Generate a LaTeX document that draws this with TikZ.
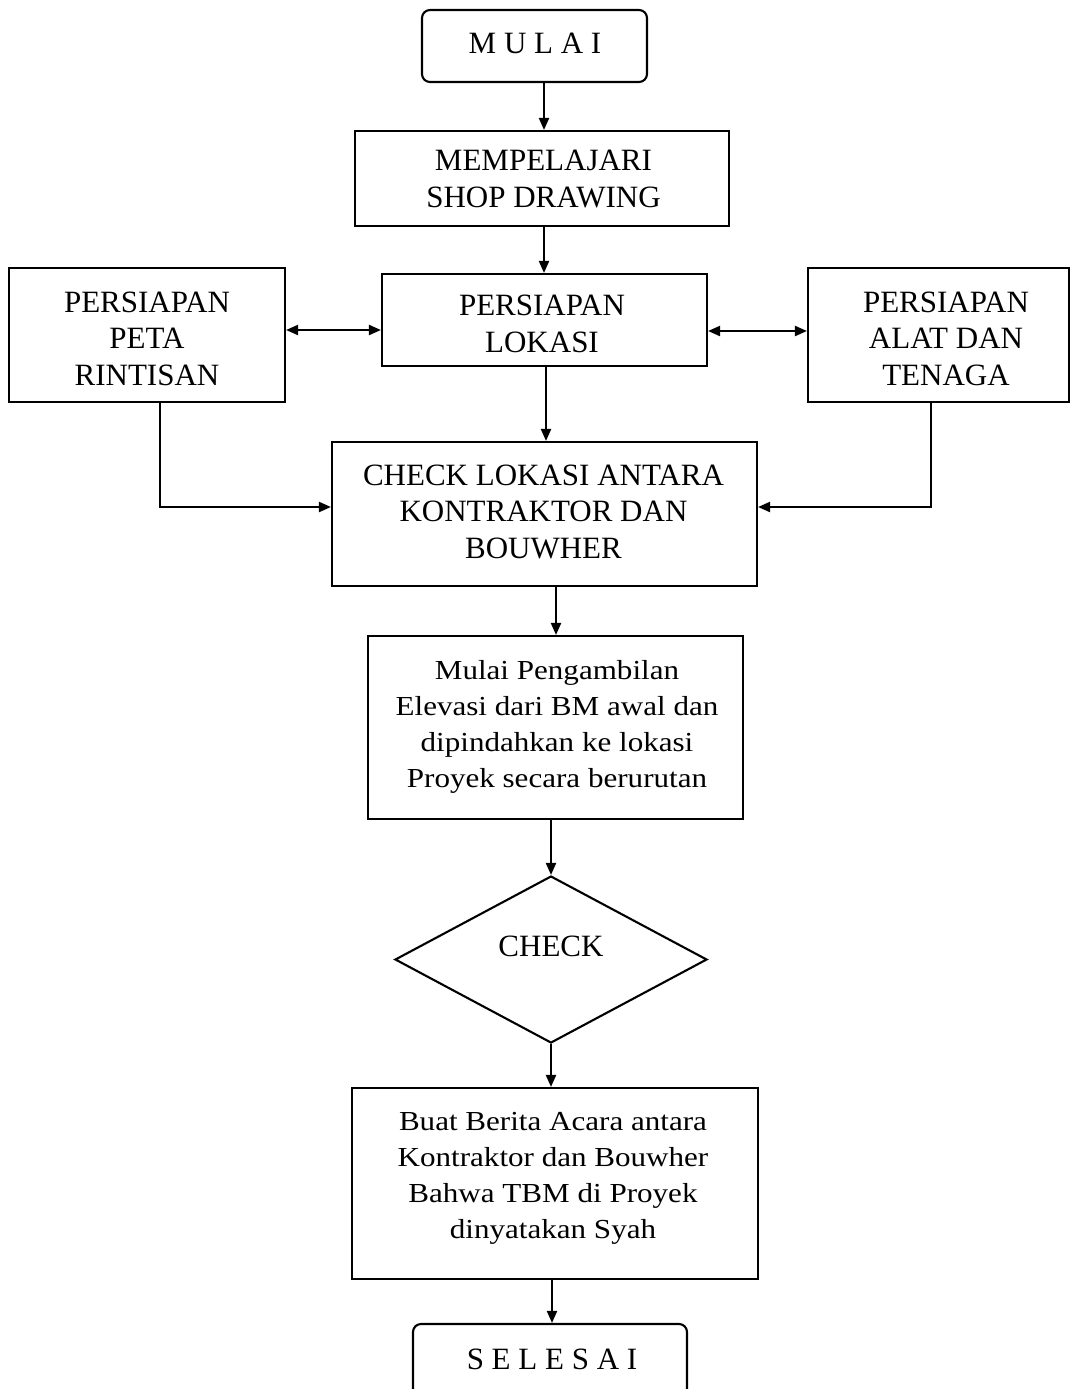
\documentclass[tikz,border=0pt]{standalone}
\usepackage{fontspec}
\setmainfont{Liberation Serif}
\newfontfamily\widefont[FakeStretch=1.13]{Liberation Serif}
\usetikzlibrary{arrows.meta,shapes.geometric}
\begin{document}
\begin{tikzpicture}[x=1pt,y=-1pt,
  box/.style={draw, line width=2.1pt, rectangle, inner sep=0pt},
  roundbox/.style={box, rounded corners=8pt},
  decision/.style={draw, line width=2.1pt, diamond, inner sep=0pt},
  capstxt/.style={font=\fontsize{31}{36.5}\selectfont, align=center, inner sep=0pt},
  mixtxt/.style={font=\widefont\fontsize{27.5}{36}\selectfont, align=center, inner sep=0pt},
  tip/.style={Triangle[length=12pt,width=10pt]},
  arr/.style={line width=2.1pt, -{Triangle[length=12pt,width=10pt]}},
  dbl/.style={line width=2.1pt, {Triangle[length=12pt,width=10pt]}-{Triangle[length=12pt,width=10pt]}},
  link/.style={line width=2.1pt, -{Triangle[length=12pt,width=10pt]}}]
\useasboundingbox (0,0) rectangle (1073,1389);
\clip (0,0) rectangle (1073,1389);

% boxes
\node[roundbox, minimum width=225pt, minimum height=72pt] (mulai) at (534.5,46) {};
\node[box, minimum width=374pt, minimum height=95pt] (mempel) at (542,178.5) {};
\node[box, minimum width=325pt, minimum height=92pt] (lokasi) at (544.5,320) {};
\node[box, minimum width=276pt, minimum height=134pt] (peta) at (147,335) {};
\node[box, minimum width=261pt, minimum height=134pt] (tenaga) at (938.5,335) {};
\node[box, minimum width=425pt, minimum height=144pt] (cek) at (544.5,514) {};
\node[box, minimum width=375pt, minimum height=183pt] (ambil) at (555.5,727.5) {};
\node[decision, minimum width=312pt, minimum height=167pt] (cond) at (551,959.5) {};
\node[box, minimum width=406pt, minimum height=191pt] (buat) at (555,1183.5) {};
\node[roundbox, minimum width=274pt, minimum height=100pt] (selesai) at (550,1374) {};

% texts (anchored at the baseline of the last line)
\node[capstxt, anchor=base] (tmulai) at (535,54) {M U L A I};
\node[capstxt, anchor=base] (tmempel) at (543.5,207) {MEMPELAJARI\\SHOP DRAWING};
\node[capstxt, anchor=base] (tlokasi) at (542,352) {PERSIAPAN\\LOKASI};
\node[capstxt, anchor=base] (tpeta) at (147,385) {PERSIAPAN\\PETA\\RINTISAN};
\node[capstxt, anchor=base] (ttenaga) at (946,385) {PERSIAPAN\\ALAT DAN\\TENAGA};
\node[capstxt, anchor=base] (tcek) at (543.5,558) {CHECK LOKASI ANTARA\\KONTRAKTOR DAN\\BOUWHER};
\node[mixtxt, anchor=base] (tambil) at (557,787) {Mulai Pengambilan\\Elevasi dari BM awal dan\\dipindahkan ke lokasi\\Proyek secara berurutan};
\node[capstxt, anchor=base] (tcond) at (551,956) {CHECK};
\node[mixtxt, anchor=base] (tbuat) at (553,1238) {Buat Berita Acara antara\\Kontraktor dan Bouwher\\Bahwa TBM di Proyek\\dinyatakan Syah};
\node[capstxt, anchor=base] (tselesai) at (552,1369) {S E L E S A I};

% main flow
\draw[arr] ([xshift=9.5pt]mulai.south) -- ([xshift=9.5pt]mulai.south |- mempel.north);
\draw[arr] ([xshift=2pt]mempel.south) -- ([xshift=2pt]mempel.south |- lokasi.north);
\draw[arr] ([xshift=1.5pt]lokasi.south) -- ([xshift=1.5pt]lokasi.south |- cek.north);
\draw[arr] ([xshift=11.5pt]cek.south) -- ([xshift=11.5pt]cek.south |- ambil.north);
\draw[arr] (ambil.south -| cond.north) -- (cond.north);
\draw[arr] (cond.south) -- (cond.south |- buat.north);
\draw[arr] ([xshift=-3pt]buat.south) -- ([xshift=-3pt]buat.south |- selesai.north);

% side preparations
\draw[dbl] ([yshift=5pt]peta.east) -- ([yshift=5pt]peta.east -| lokasi.west);
\draw[dbl] ([yshift=-11pt]lokasi.east) -- ([yshift=-11pt]lokasi.east -| tenaga.west);
\draw[link] ([xshift=13pt]peta.south) |- ([yshift=7pt]cek.west);
\draw[link] ([xshift=-7.5pt]tenaga.south) |- ([yshift=7pt]cek.east);
\end{tikzpicture}
\end{document}
